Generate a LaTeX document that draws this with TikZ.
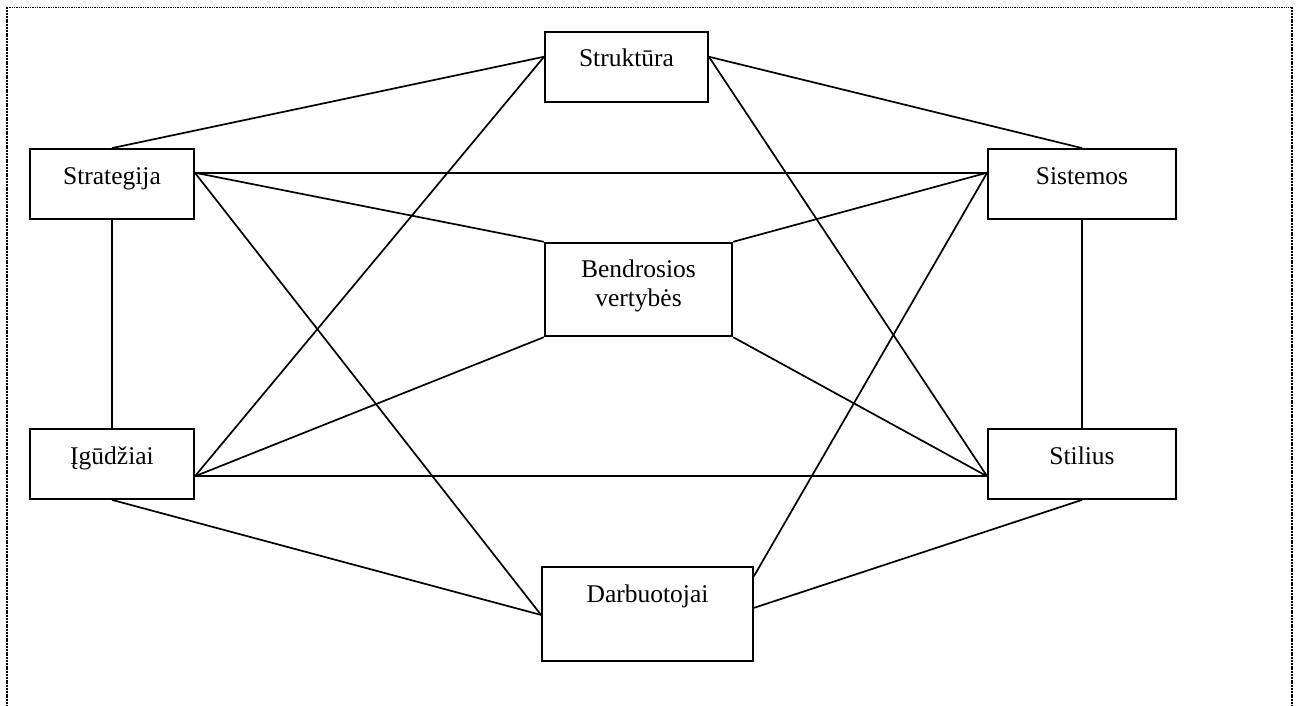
\documentclass[tikz,border=0pt]{standalone}
\usepackage{fontspec}
\setmainfont{Liberation Serif}
\usetikzlibrary{calc}
\begin{document}
\begin{tikzpicture}[x=1pt,y=-1pt,
  lbl/.style={font=\fontsize{25.5}{29}\selectfont},
  box/.style={draw, line width=1.8pt, inner sep=0pt, lbl,
    text height=35pt, text depth=35pt, anchor=base},
  corebox/.style={draw, line width=2.4pt, inner sep=0pt},
  link/.style={line width=1.7pt},
  frametop/.style={line width=1.3pt, dash pattern=on 1.3pt off 1pt},
  frameside/.style={line width=2.6pt, dash pattern=on 2pt off 0.8pt}]
\useasboundingbox (0,0) rectangle (1300,706);

% outer dotted frame (open at the bottom)
\draw[frametop] (7,7.5) -- (1292,7.5);
\draw[frameside] (7,7.5) -- (7,706);
\draw[frameside] (1292,7.5) -- (1292,706);

% boxes
\node[box, minimum width=163pt] (strukt) at (626.5,67) {Struktūra};
\node[box, minimum width=164pt] (strat) at (112,184) {Strategija};
\node[box, minimum width=188pt] (sist) at (1082,184) {Sistemos};
\node[box, minimum width=164pt] (igud) at (112,464) {Įgūdžiai};
\node[box, minimum width=188pt] (stil) at (1082,464) {Stilius};
\node[box, minimum width=211pt, text depth=59pt] (darb) at (647.5,602) {Darbuotojai};
\node[corebox, minimum width=187pt, minimum height=93pt] (bendr) at (638.5,289.5) {};
\node[lbl, align=center, inner sep=0pt] (bendr-txt) at ($(bendr.center)+(0,-4)$) {Bendrosios\\vertybės};

% attachment points on the box edges
\coordinate (strat-r) at ($(strat.north east)!0.343!(strat.south east)$);
\coordinate (sist-l) at ($(sist.north west)!0.343!(sist.south west)$);
\coordinate (igud-r) at ($(igud.north east)!0.671!(igud.south east)$);
\coordinate (stil-l) at ($(stil.north west)!0.671!(stil.south west)$);
\coordinate (strukt-l) at ($(strukt.north west)!0.357!(strukt.south west)$);
\coordinate (strukt-r) at ($(strukt.north east)!0.357!(strukt.south east)$);
\coordinate (darb-l) at ($(darb.north west)!0.51!(darb.south west)$);
\coordinate (darb-r1) at ($(darb.north east)!0.106!(darb.south east)$);
\coordinate (darb-r2) at ($(darb.north east)!0.436!(darb.south east)$);

% connectors
\draw[link] (strat.north) -- (strukt-l);
\draw[link] (strukt-r) -- (sist.north);
\draw[link] (strat.south) -- (igud.north);
\draw[link] (sist.south) -- (stil.north);
\draw[link] (strat-r) -- (sist-l);
\draw[link] (igud-r) -- (stil-l);
\draw[link] (strat-r) -- (bendr.north west);
\draw[link] (sist-l) -- (bendr.north east);
\draw[link] (igud-r) -- (bendr.south west);
\draw[link] (stil-l) -- (bendr.south east);
\draw[link] (igud-r) -- (strukt-l);
\draw[link] (strukt-r) -- (stil-l);
\draw[link] (strat-r) -- (darb-l);
\draw[link] (sist-l) -- (darb-r1);
\draw[link] (igud.south) -- (darb-l);
\draw[link] (stil.south) -- (darb-r2);
\end{tikzpicture}
\end{document}
